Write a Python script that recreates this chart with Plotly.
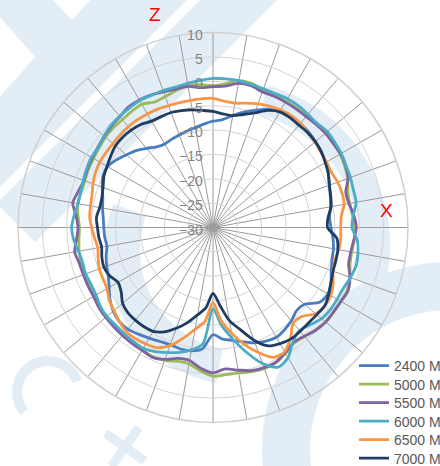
import numpy as np
import plotly.graph_objects as go

# Richtdiagramm, Gewinn in dB je Frequenz, Winkel im Uhrzeigersinn ab Z (oben)
ANGLES = list(range(0, 360, 5))

SERIES_NAMES = ["2400 M", "5000 M", "5500 M", "6000 M", "6500 M", "7000 M"]

GAIN_2400 = [-8.2, -7.8, -6.7, -5.5, -4.4, -3.2, -2.6, -2.3, -2.2, -2.3,
             -2.6, -2.9, -3.3, -3.9, -4.6, -5.1, -5.5, -6.0, -5.8, -5.3,
             -4.9, -4.7, -4.2, -3.3, -2.8, -3.3, -5.5, -5.8, -5.0, -4.4,
             -4.0, -4.3, -4.8, -5.7, -6.5, -7.0, -8.0, -5.0, -4.3, -4.2,
             -4.4, -4.2, -3.8, -3.3, -2.8, -2.8, -3.3, -4.2, -5.4, -6.3,
             -6.8, -7.3, -7.9, -7.7, -7.6, -7.4, -7.0, -6.6, -5.8, -5.1,
             -5.0, -5.8, -6.8, -7.7, -8.8, -9.8, -10.2, -10.0, -9.8, -9.5,
             -9.2, -8.7]
GAIN_5000 = [-0.9, -0.4, 0.6, 0.6, 0.0, -0.2, -0.1, -0.1, -0.1, 0.0,
             0.1, 0.1, 0.1, -0.2, -0.6, -1.4, -1.5, -1.3, -0.9, -0.9,
             -1.1, -0.9, -0.1, 0.4, 0.3, 0.2, 0.1, -0.3, -0.8, -1.0,
             -0.2, 0.6, 0.8, 0.6, 0.3, 0.3, 0.5, -0.5, -1.6, -1.6,
             -1.0, -0.8, -1.0, -1.1, -1.2, -1.3, -1.4, -1.6, -1.8, -1.9,
             -2.0, -2.0, -2.1, -2.4, -2.6, -2.2, -1.8, -2.0, -2.0, -1.8,
             -1.7, -1.5, -1.2, -1.1, -1.1, -0.9, -0.8, -1.6, -1.4, -0.9,
             -0.5, -0.6]
GAIN_5500 = [-1.1, -0.9, 0.0, 0.1, -0.4, -0.3, -0.3, -0.3, -0.3, -0.1,
             0.1, 0.1, 0.2, 0.0, -0.5, -1.8, -1.7, -1.0, -0.6, -1.0,
             -1.3, -1.2, -0.1, 0.6, 0.3, 0.2, 0.2, -0.2, -0.9, -1.2,
             -0.4, 0.5, 0.6, 0.4, -0.3, -0.9, -0.2, -1.0, -2.3, -2.2,
             -1.2, -0.6, -0.9, -1.0, -1.1, -1.2, -1.3, -1.4, -1.7, -1.7,
             -1.7, -1.6, -1.2, -1.9, -2.3, -1.8, -0.8, -1.4, -1.8, -1.6,
             -1.4, -1.2, -0.9, -0.6, -0.3, 0.2, 0.2, 0.0, -0.4, -0.6,
             -0.6, -1.2]
GAIN_6000 = [0.6, 0.6, 0.6, 0.4, 0.3, 0.3, 0.5, 0.5, 0.3, 0.2,
             0.6, 0.5, 0.4, 0.1, 0.0, -0.2, -0.2, -1.1, -1.5, -0.3,
             0.2, 0.4, 0.0, -0.5, -0.6, -0.6, -0.9, -1.8, -2.4, -1.4,
             0.8, 1.6, -0.3, -3.5, -6.8, -9.8, -13.3, -6.0, -4.5, -3.5,
             -2.7, -1.9, -1.4, -1.5, -1.6, -1.7, -1.6, -1.8, -2.3, -2.4,
             -2.2, -2.3, -2.0, -1.3, -1.0, -1.4, -1.9, -1.9, -1.7, -1.4,
             -1.2, -1.3, -0.8, -0.4, -0.2, -0.1, 0.1, -0.1, -0.1, -0.2,
             0.0, 0.3]
GAIN_6500 = [-3.5, -4.0, -4.1, -3.6, -3.0, -2.5, -2.2, -2.0, -2.1, -2.5,
             -2.7, -3.0, -3.1, -3.2, -2.8, -2.6, -2.7, -3.6, -3.8, -3.7,
             -3.8, -4.1, -3.8, -2.8, -2.1, -2.0, -2.5, -4.2, -4.4, -2.3,
             -0.6, -0.6, -2.7, -5.2, -8.0, -10.8, -14.6, -10.6, -8.8, -6.5,
             -4.2, -2.8, -2.4, -2.2, -2.2, -2.8, -3.5, -4.0, -4.9, -5.1,
             -5.2, -5.6, -6.0, -5.6, -5.1, -4.6, -4.5, -4.3, -3.8, -3.4,
             -3.2, -3.2, -3.2, -3.1, -3.0, -3.0, -3.1, -3.2, -3.4, -3.5,
             -3.5, -3.5]
GAIN_7000 = [-6.2, -6.6, -6.7, -6.0, -5.0, -3.5, -2.6, -2.5, -2.6, -2.5,
             -2.6, -2.9, -3.4, -3.9, -4.6, -5.0, -5.4, -6.3, -6.5, -4.5,
             -4.0, -3.9, -3.8, -3.3, -2.6, -2.0, -2.2, -2.3, -2.2, -2.1,
             -2.5, -3.2, -5.4, -8.3, -10.6, -14.0, -16.5, -13.5, -11.8, -9.8,
             -8.0, -6.4, -5.4, -5.2, -5.2, -5.3, -5.8, -7.0, -7.5, -6.6,
             -6.2, -6.4, -6.8, -6.5, -6.3, -6.0, -6.4, -6.4, -6.0, -5.3,
             -4.9, -4.4, -3.9, -3.8, -3.9, -4.2, -4.8, -4.9, -4.9, -5.2,
             -5.5, -5.9]

SERIES_GAINS = [GAIN_2400, GAIN_5000, GAIN_5500, GAIN_6000, GAIN_6500, GAIN_7000]
SERIES_COLORS = ["#4a7dbe", "#9bbb59", "#8064a2", "#4bacc6", "#f79646", "#1f3c63"]

RADIAL_TICKS = [-30, -25, -20, -15, -10, -5, 0, 5, 10]

W, H = 440, 466
CX, CY, RAD = 213, 227.5, 195  # Mittelpunkt / Radius in Pixeln
WM = "#e3edf6"  # Wasserzeichen-Farbe


def _px(x, y):
    return x / W, 1 - y / H


def _poly_path(points):
    pts = [_px(x, y) for x, y in points]
    return "M " + " L ".join(f"{a:.5f},{b:.5f}" for a, b in pts) + " Z"


def _ring_path(cx, cy, r_in, r_out, a0, a1, n=60):
    # Ringsektor, Winkel in Grad (Bildschirm: 0 = rechts, 90 = unten)
    t = np.radians(np.linspace(a0, a1, n))
    outer = [(cx + r_out * np.cos(a), cy + r_out * np.sin(a)) for a in t]
    inner = [(cx + r_in * np.cos(a), cy + r_in * np.sin(a)) for a in t[::-1]]
    return _poly_path(outer + inner)


fig = go.Figure()

for i, (name, vals, color) in enumerate(zip(SERIES_NAMES, SERIES_GAINS, SERIES_COLORS)):
    fig.add_trace(go.Scatterpolar(
        r=vals + [vals[0]],
        theta=ANGLES + [360],
        mode="lines",
        name=name,
        line=dict(color=color, width=2.8, shape="spline", smoothing=0.8),
        legend="legend" if i == 0 else f"legend{i + 1}",
        hoverinfo="skip",
    ))

# Wasserzeichen im Hintergrund (grob nachgebildet)
wm_paths = [
    _poly_path([(0, 0), (53, 0), (72, 20), (90, 0), (187, 0), (0, 187), (0, 97), (35, 57), (0, 17)]),
    _poly_path([(200, 0), (277, 0), (35, 242), (0, 207), (0, 200)]),
    _ring_path(225, 245, 135, 165, -75, 15),
    _ring_path(240, 250, 100, 135, 100, 200),
    _ring_path(450, 450, 140, 188, 0, 360, n=120),
    _ring_path(48, 392, 26, 36, 140, 340),
]
shapes = [dict(type="path", path=p, xref="paper", yref="paper", fillcolor=WM,
               line=dict(width=0), layer="below") for p in wm_paths]
# kleines Kreuz unten links
for ang in (35, 125):
    a = np.radians(ang)
    ux, uy = np.cos(a), np.sin(a)
    vx, vy = -uy, ux
    cx, cy, L, w = 125, 447, 24, 4.5
    pts = [(cx - L * ux - w * vx, cy - L * uy - w * vy), (cx + L * ux - w * vx, cy + L * uy - w * vy),
           (cx + L * ux + w * vx, cy + L * uy + w * vy), (cx - L * ux + w * vx, cy - L * uy + w * vy)]
    shapes.append(dict(type="path", path=_poly_path(pts), xref="paper", yref="paper",
                       fillcolor=WM, line=dict(width=0), layer="below"))

legend_rows = [366, 384.5, 403, 421.5, 440, 458.5]
legend_layout = {}
for i, y in enumerate(legend_rows):
    key = "legend" if i == 0 else f"legend{i + 1}"
    legend_layout[key] = dict(
        x=354 / W, y=1 - y / H, xanchor="left", yanchor="middle",
        bgcolor="rgba(0,0,0,0)", borderwidth=0, itemwidth=30,
        font=dict(size=14, color="#595959", family="Liberation Sans, Arial, sans-serif"),
    )

fig.update_layout(
    width=W, height=H,
    margin=dict(l=0, r=0, t=0, b=0, autoexpand=False),
    paper_bgcolor="white",
    font=dict(family="Liberation Sans, Arial, sans-serif"),
    showlegend=True,
    shapes=shapes,
    polar=dict(
        domain=dict(x=[(CX - RAD) / W, (CX + RAD) / W], y=[(H - CY - RAD) / H, (H - CY + RAD) / H]),
        bgcolor="rgba(0,0,0,0)",
        angularaxis=dict(rotation=90, direction="clockwise", dtick=10, showticklabels=False, ticks="",
                         gridcolor="#9a9a9a", gridwidth=1, showline=True, linecolor="#d0d0d0", linewidth=1.5),
        radialaxis=dict(range=[-30, 10], tickvals=RADIAL_TICKS, angle=90, side="counterclockwise",
                        showline=False, ticks="", gridcolor="#d3d3d3", gridwidth=1,
                        tickfont=dict(size=14, color="#858585")),
    ),
    annotations=[
        dict(text="Z", x=155 / W, y=1 - 15 / H, xref="paper", yref="paper", showarrow=False,
             xanchor="center", yanchor="middle", font=dict(size=19, color="#ff0000")),
        dict(text="X", x=386 / W, y=1 - 211 / H, xref="paper", yref="paper", showarrow=False,
             xanchor="center", yanchor="middle", font=dict(size=19, color="#ff0000")),
    ],
    **legend_layout,
)

fig.write_html("out.html", config={"displayModeBar": False},
               post_script="document.body.style.margin='0';document.body.style.overflow='hidden';")
